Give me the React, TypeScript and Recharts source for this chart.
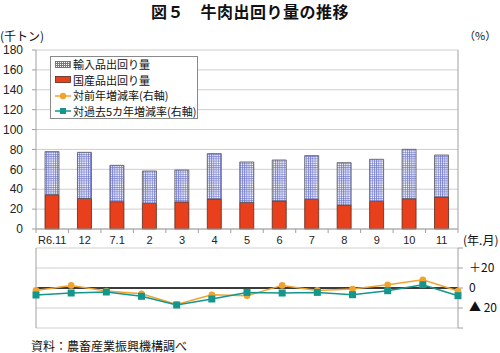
import React from 'react';
import { BarChart, Bar, ComposedChart, Line, XAxis, YAxis, CartesianGrid, ReferenceLine } from 'recharts';

const categories = ['R6.11', '12', '7.1', '2', '3', '4', '5', '6', '7', '8', '9', '10', '11'];
const domestic = [34.5, 30.8, 27.5, 25.8, 27.2, 30.2, 26.8, 28.2, 29.8, 24.1, 27.8, 30.5, 32.2];
const imported = [43.3, 46.3, 36.5, 32.5, 32.1, 45.6, 40.6, 41.2, 44.0, 42.6, 42.3, 49.6, 42.2];
const yoyRate = [-2.4, 2.6, -3.0, -5.7, -16.5, -6.7, -7.7, 2.6, -2.4, -1.0, 3.3, 8.3, -3.0];
const fiveYearRate = [-7.0, -5.0, -4.0, -8.3, -17.0, -11.0, -4.4, -5.0, -4.4, -6.7, -2.7, 3.3, -7.7];

const leftTicks = [0, 20, 40, 60, 80, 100, 120, 140, 160, 180];
const rateTicks = [-40, -20, 0, 20, 40];

const seriesNames = {
  imported: '輸入品出回り量',
  domestic: '国産品出回り量',
  yoy: '対前年増減率(右軸)',
  five: '対過去5カ年増減率(右軸)',
};

const barData = categories.map((name, i) => ({ name, domestic: domestic[i], imported: imported[i] }));
const lineData = categories.map((name, i) => ({ name, yoy: yoyRate[i], five: fiveYearRate[i] }));

const FONT = '"Liberation Sans", Arial, "Noto Sans CJK JP", sans-serif';
const JFONT = '"Noto Sans CJK JP", "Liberation Sans", sans-serif';
const RED = '#e8401c';
const ORANGE = '#f0a430';
const TEAL = '#14968c';
const GRID = '#cfcfcf';
const AXIS = '#a0a0a0';

const PLOT_LEFT = 36;
const PLOT_RIGHT = 458;
const BAND = (PLOT_RIGHT - PLOT_LEFT) / categories.length;

const XTick = (props: any) => {
  const { x, y, payload, index } = props;
  return (
    <g>
      <line x1={x - BAND / 2} x2={x - BAND / 2} y1={y} y2={y + 4} stroke={AXIS} />
      {index === categories.length - 1 && (
        <line x1={x + BAND / 2} x2={x + BAND / 2} y1={y} y2={y + 4} stroke={AXIS} />
      )}
      <text x={x} y={y + 15} textAnchor="middle" fontSize={11} fill="#222" fontFamily={FONT}>
        {payload.value}
      </text>
    </g>
  );
};

const rateLabel = (v: number) => (v === 20 ? '＋20' : v === 0 ? '0' : v === -20 ? '▲ 20' : '');

const RateTick = (props: any) => {
  const { x, y, payload } = props;
  const label = rateLabel(Number(payload.value));
  if (!label) return null;
  return (
    <text x={x} y={y} dy="0.35em" textAnchor="start" fontSize={12} fill="#111" fontFamily={JFONT}>
      {label}
    </text>
  );
};

const SquareDot = (props: any) => {
  const { cx, cy, index } = props;
  if (cx == null || cy == null) return null;
  return <rect key={`sq-${index}`} x={cx - 3.5} y={cy - 3.5} width={7} height={7} fill={TEAL} />;
};

const rowStyle: React.CSSProperties = { display: 'flex', alignItems: 'center', whiteSpace: 'nowrap', height: 15.5 };

const LegendBox = () => (
  <div
    style={{
      position: 'absolute',
      left: 50,
      top: 56,
      width: 148,
      height: 63,
      border: '1px solid #8a8a8a',
      background: '#fff',
      boxSizing: 'border-box',
      padding: '0 0 0 4px',
      fontFamily: JFONT,
      fontSize: 11,
      color: '#111',
      lineHeight: '15px',
    }}
  >
    <div style={rowStyle}>
      <svg width={16} height={8} style={{ marginRight: 2 }}>
        <defs>
          <pattern id="hatchL" width="2" height="2" patternUnits="userSpaceOnUse">
            <rect width="2" height="2" fill="#fff" />
            <path d="M0 0.5H2M0.5 0V2" stroke="#6a72c8" strokeWidth="1" />
          </pattern>
        </defs>
        <rect x={0.5} y={0.5} width={15} height={6} fill="url(#hatchL)" stroke="#666" strokeWidth={0.8} />
      </svg>
      {seriesNames.imported}
    </div>
    <div style={rowStyle}>
      <svg width={16} height={8} style={{ marginRight: 2 }}>
        <rect x={0.5} y={0.5} width={15} height={6} fill={RED} stroke="#5a2a1a" strokeWidth={0.8} />
      </svg>
      {seriesNames.domestic}
    </div>
    <div style={rowStyle}>
      <svg width={16} height={8} style={{ marginRight: 2 }}>
        <line x1={0} x2={16} y1={4} y2={4} stroke={ORANGE} strokeWidth={1.5} />
        <circle cx={8} cy={4} r={3.2} fill={ORANGE} />
      </svg>
      {seriesNames.yoy}
    </div>
    <div style={rowStyle}>
      <svg width={16} height={8} style={{ marginRight: 2 }}>
        <line x1={0} x2={16} y1={4} y2={4} stroke={TEAL} strokeWidth={1.5} />
        <rect x={5} y={1} width={6} height={6} fill={TEAL} />
      </svg>
      {seriesNames.five}
    </div>
  </div>
);

const textStyle: React.CSSProperties = { position: 'absolute', whiteSpace: 'nowrap', color: '#111' };

export default function App() {
  return (
    <div style={{ position: 'fixed', left: 0, top: 0, width: 500, height: 353, background: '#fff', overflow: 'hidden' }}>
      <style>{'html,body{margin:0;padding:0;overflow:hidden;}'}</style>
      <div style={{ position: 'absolute', left: 0, top: 0 }}>
        <BarChart width={500} height={353} data={barData} margin={{ top: 50, right: 0, left: 0, bottom: 104 }} barSize={14}>
          <defs>
            <pattern id="hatch" width="2.2" height="2.2" patternUnits="userSpaceOnUse">
              <rect width="2.2" height="2.2" fill="#fff" />
              <path d="M0 0.5H2.2M0.5 0V2.2" stroke="#6f77cc" strokeWidth="0.8" />
            </pattern>
          </defs>
          <CartesianGrid yAxisId="left" vertical={false} stroke={GRID} />
          <XAxis dataKey="name" height={20} tickLine={false} tickSize={0} tickMargin={0} axisLine={{ stroke: AXIS }} tick={<XTick />} interval={0} />
          <YAxis
            yAxisId="left"
            width={36}
            domain={[0, 180]}
            ticks={leftTicks}
            interval={0}
            tickSize={4}
            tickMargin={9}
            axisLine={{ stroke: AXIS }}
            tickLine={{ stroke: AXIS }}
            tick={{ fontSize: 12, fill: '#222', fontFamily: FONT }}
          />
          <YAxis
            yAxisId="right"
            orientation="right"
            width={42}
            domain={[0, 180]}
            ticks={leftTicks}
            interval={0}
            tickSize={5}
            axisLine={{ stroke: AXIS }}
            tickLine={{ stroke: AXIS }}
            tick={false}
          />
          <Bar yAxisId="left" dataKey="domestic" stackId="s" fill={RED} stroke="#5a2a1a" strokeWidth={0.8} isAnimationActive={false} />
          <Bar yAxisId="left" dataKey="imported" stackId="s" fill="url(#hatch)" stroke="#555" strokeWidth={0.8} isAnimationActive={false} />
        </BarChart>
      </div>
      <div style={{ position: 'absolute', left: 0, top: 0 }}>
        <ComposedChart width={500} height={353} data={lineData} margin={{ top: 248, right: 0, left: 0, bottom: 25 }}>
          <CartesianGrid yAxisId="right" vertical={false} stroke={GRID} />
          <XAxis dataKey="name" hide />
          <YAxis
            yAxisId="left"
            width={36}
            domain={[-40, 40]}
            ticks={rateTicks}
            interval={0}
            tickSize={4}
            axisLine={{ stroke: AXIS }}
            tickLine={{ stroke: AXIS }}
            tick={false}
          />
          <YAxis
            yAxisId="right"
            orientation="right"
            width={42}
            domain={[-40, 40]}
            ticks={rateTicks}
            interval={0}
            tickSize={5}
            tickMargin={6}
            axisLine={{ stroke: AXIS }}
            tickLine={{ stroke: AXIS }}
            tick={<RateTick />}
          />
          <ReferenceLine yAxisId="right" y={0} stroke="#000" strokeWidth={1.5} />
          <Line yAxisId="right" dataKey="yoy" stroke={ORANGE} strokeWidth={1.5} dot={{ r: 3.3, fill: ORANGE, stroke: 'none' }} isAnimationActive={false} />
          <Line yAxisId="right" dataKey="five" stroke={TEAL} strokeWidth={1.5} dot={<SquareDot />} isAnimationActive={false} />
        </ComposedChart>
      </div>
      <LegendBox />
      <div style={{ ...textStyle, left: 0, width: 500, top: 0, lineHeight: '23px', textAlign: 'center', fontFamily: JFONT, fontSize: 16, fontWeight: 700, letterSpacing: 0.5 }}>
        図５　牛肉出回り量の推移
      </div>
      <div style={{ ...textStyle, left: 0, top: 27, fontFamily: JFONT, fontSize: 12 }}>(千トン)</div>
      <div style={{ ...textStyle, left: 464, top: 27, fontFamily: JFONT, fontSize: 11 }}>（%）</div>
      <div style={{ ...textStyle, left: 463, top: 231, fontFamily: JFONT, fontSize: 12 }}>(年.月)</div>
      <div style={{ ...textStyle, left: 31, top: 337, fontFamily: JFONT, fontSize: 12 }}>資料：農畜産業振興機構調べ</div>
    </div>
  );
}
